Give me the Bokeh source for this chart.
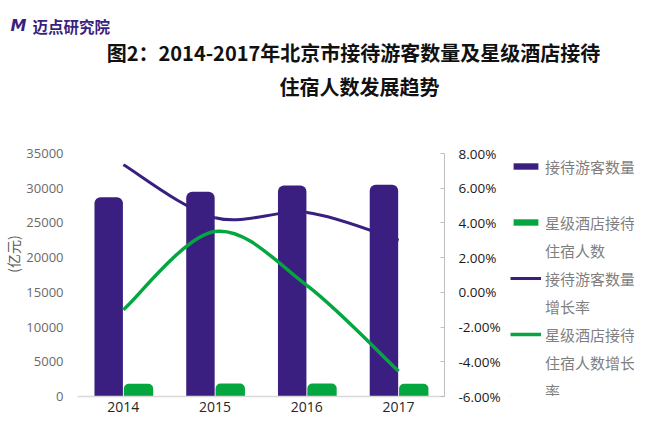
from bokeh.plotting import figure
from bokeh.layouts import row, column
from bokeh.models import (FactorRange, Range1d, LinearAxis, Legend, LegendItem,
                          PrintfTickFormatter, FixedTicker, ColumnDataSource)
from bokeh.core.properties import value
from bokeh.transform import dodge
from bokeh.embed import file_html
from bokeh.resources import INLINE

years = ["2014", "2015", "2016", "2017"]
tourists = [28700, 29500, 30400, 30500]          # 接待游客数量
hotel_guests = [1830, 1880, 1870, 1840]          # 星级酒店接待住宿人数
tourist_growth = [7.35, 4.3, 4.6, 3.0]           # 接待游客数量增长率 (%)
hotel_growth = [-1.0, 3.5, 0.4, -4.55]           # 星级酒店接待住宿人数增长率 (%)
left_ticks = [0, 5000, 10000, 15000, 20000, 25000, 30000, 35000]
right_ticks = [-6, -4, -2, 0, 2, 4, 6, 8]
title_lines = ["图2：2014-2017年北京市接待游客数量及星级酒店接待", "住宿人数发展趋势"]

PURPLE = "#3A1F80"
GREEN = "#04A640"
CJK = "Noto Sans CJK SC"

# ---------------- title strip ----------------
tf = figure(width=634, height=126, output_backend="svg", toolbar_location=None,
            x_axis_type=None, y_axis_type=None, x_range=Range1d(0, 634), y_range=Range1d(126, 0),
            min_border_left=0, min_border_right=0, min_border_top=0, min_border_bottom=0)
tf.outline_line_color = None
tf.xgrid.visible = False
tf.ygrid.visible = False
tf.text(x=[353, 359], y=[52, 86], text=title_lines, text_align="center",
        text_baseline="middle", text_font=value(CJK), text_font_size="20px",
        text_font_style="bold", text_color="#111111")
tf.text(x=[10], y=[25], text=["M"], text_align="left", text_baseline="middle",
        text_font=value("DejaVu Sans"), text_font_size="16px", text_font_style="bold italic",
        text_color=PURPLE)
tf.text(x=[32], y=[25], text=["迈点研究院"], text_align="left", text_baseline="middle",
        text_font=value(CJK), text_font_size="15.5px", text_font_style="bold",
        text_color=PURPLE)

# ---------------- main chart ----------------
p = figure(x_range=FactorRange(*years), y_range=Range1d(0, 35000),
           width=510, height=296, output_backend="svg", toolbar_location=None,
           min_border_left=70, min_border_right=66, min_border_top=9,
           min_border_bottom=26)
p.outline_line_color = None
p.xgrid.visible = False
p.ygrid.visible = False
p.extra_y_ranges = {"pct": Range1d(-6, 8)}

src = ColumnDataSource(dict(year=years, tourists=tourists, hotel=hotel_guests))
p.vbar(x=dodge("year", -0.16, range=p.x_range), top="tourists", width=0.31,
       source=src, fill_color=PURPLE, line_color=None, border_radius=(6, 6, 0, 0))
p.vbar(x=dodge("year", 0.165, range=p.x_range), top="hotel", width=0.32,
       source=src, fill_color=GREEN, line_color=None, border_radius=(5, 5, 0, 0))


def smooth(vals):
    n = len(vals)
    pts = [(i + 0.5, v) for i, v in enumerate(vals)]
    out = dict(x0=[], y0=[], x1=[], y1=[], cx0=[], cy0=[], cx1=[], cy1=[])
    for i in range(n - 1):
        a = pts[max(i - 1, 0)]
        b = pts[i]
        c = pts[i + 1]
        d = pts[min(i + 2, n - 1)]
        out["x0"].append(b[0]); out["y0"].append(b[1])
        out["x1"].append(c[0]); out["y1"].append(c[1])
        out["cx0"].append(b[0] + (c[0] - a[0]) / 6); out["cy0"].append(b[1] + (c[1] - a[1]) / 6)
        out["cx1"].append(c[0] - (d[0] - b[0]) / 6); out["cy1"].append(c[1] - (d[1] - b[1]) / 6)
    return ColumnDataSource(out)


p.bezier(x0="x0", y0="y0", x1="x1", y1="y1", cx0="cx0", cy0="cy0", cx1="cx1", cy1="cy1",
         source=smooth(tourist_growth), line_color=PURPLE, line_width=3, y_range_name="pct")
p.bezier(x0="x0", y0="y0", x1="x1", y1="y1", cx0="cx0", cy0="cy0", cx1="cx1", cy1="cy1",
         source=smooth(hotel_growth), line_color=GREEN, line_width=3.5, y_range_name="pct")

xa = p.xaxis[0]
xa.axis_line_color = "#d9d9d9"
xa.axis_line_width = 1.5
xa.major_tick_line_color = None
xa.major_tick_out = 0
xa.minor_tick_line_color = None
xa.major_label_text_font = "Open Sans"
xa.major_label_text_font_size = "14px"
xa.major_label_text_color = "#262626"
xa.major_label_standoff = 5

ya = p.yaxis[0]
ya.ticker = FixedTicker(ticks=left_ticks)
ya.axis_line_color = None
ya.major_tick_line_color = None
ya.major_tick_out = 0
ya.minor_tick_line_color = None
ya.minor_tick_out = 0
ya.major_label_text_font = "Open Sans"
ya.major_label_text_font_size = "13px"
ya.major_label_text_color = "#6b6b6b"
ya.major_label_standoff = 14
ya.axis_label = "\u3000\u3000\u3000(亿元)"
ya.axis_label_text_font = CJK
ya.axis_label_text_font_style = "normal"
ya.axis_label_text_font_size = "14px"
ya.axis_label_text_color = "#595959"
ya.axis_label_standoff = 0

ra = LinearAxis(y_range_name="pct", ticker=FixedTicker(ticks=right_ticks),
                formatter=PrintfTickFormatter(format="%.2f%%"))
ra.axis_line_color = "#bfbfbf"
ra.major_tick_line_color = "#bfbfbf"
ra.major_tick_in = 4
ra.major_tick_out = 0
ra.minor_tick_line_color = None
ra.minor_tick_out = 0
ra.major_label_text_font = "Open Sans"
ra.major_label_text_font_size = "13.5px"
ra.major_label_text_color = "#1a1a1a"
ra.major_label_standoff = 14
p.add_layout(ra, "right")

# ---------------- legend panel ----------------
lg = figure(width=124, height=296, output_backend="svg", toolbar_location=None,
            x_axis_type=None, y_axis_type=None, x_range=Range1d(0, 1), y_range=Range1d(0, 1),
            min_border_left=0, min_border_right=0, min_border_top=27, min_border_bottom=0)
lg.outline_line_color = None
lg.xgrid.visible = False
lg.ygrid.visible = False
# legend proxies (kept outside the visible range of this panel)
k1 = lg.vbar(x=[-5], top=[-5], width=0.3, fill_color=PURPLE, line_color=None)
k2 = lg.vbar(x=[-5], top=[-5], width=0.3, fill_color=GREEN, line_color=None)
k3 = lg.line(x=[-6, -5], y=[-5, -5], line_color=PURPLE, line_width=3)
k4 = lg.line(x=[-6, -5], y=[-5, -5], line_color=GREEN, line_width=3.5)
kb = lg.scatter(x=[-5], y=[-5], fill_alpha=0, line_alpha=0)

legend = Legend(items=[
    LegendItem(label="接待游客数量", renderers=[k1]),
    LegendItem(label=" ", renderers=[kb]),
    LegendItem(label="星级酒店接待", renderers=[k2]),
    LegendItem(label="住宿人数", renderers=[kb]),
    LegendItem(label="接待游客数量", renderers=[k3]),
    LegendItem(label="增长率", renderers=[kb]),
    LegendItem(label="星级酒店接待", renderers=[k4]),
    LegendItem(label="住宿人数增长", renderers=[kb]),
    LegendItem(label="率", renderers=[kb]),
], location="top_left")
legend.label_text_font = CJK
legend.label_text_font_size = "15px"
legend.label_text_color = "#7f7f7f"
legend.glyph_width = 31
legend.glyph_height = 8
legend.label_standoff = 4
legend.label_height = 26
legend.spacing = 2
legend.padding = 0
legend.margin = 0
legend.border_line_color = None
legend.background_fill_alpha = 0
lg.add_layout(legend)

layout = column(tf, row(p, lg, spacing=0), spacing=0)
open("out.html", "w").write(file_html(layout, INLINE))
